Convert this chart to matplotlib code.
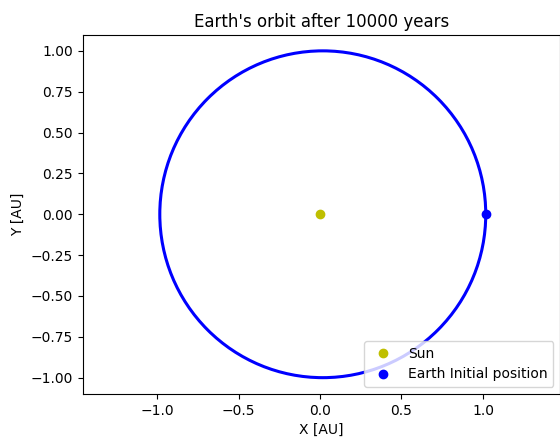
import matplotlib
matplotlib.use("Agg")
import matplotlib.pyplot as plt
from matplotlib.patches import Ellipse

# Orbit (AU)
orbit_center = (0.017, 0.0)
orbit_width = 2.0      # perihelion -0.983 .. aphelion 1.017
orbit_height = 2.0

sun_x, sun_y = [0.0], [0.0]
earth_x, earth_y = [1.017], [0.0]

x_ticks = [-1.0, -0.5, 0.0, 0.5, 1.0]
y_ticks = [-1.00, -0.75, -0.50, -0.25, 0.00, 0.25, 0.50, 0.75, 1.00]

fig = plt.figure(figsize=(5.6, 4.37), dpi=100)
ax = fig.add_axes([0.1477, 0.0984, 0.853, 0.8215])

orbit = Ellipse(orbit_center, orbit_width, orbit_height,
                fill=False, edgecolor='b', linewidth=2.2)
ax.add_patch(orbit)

ax.plot(sun_x, sun_y, 'yo', label='Sun')
ax.plot(earth_x, earth_y, 'bo', label='Earth Initial position')

ax.set_xlim(-1.456, 1.475)
ax.set_ylim(-1.10, 1.097)
ax.set_xticks(x_ticks)
ax.set_yticks(y_ticks)

ax.set_title("Earth's orbit after 10000 years")
ax.set_xlabel('X [AU]')
ax.set_ylabel('Y [AU]')
ax.legend(loc='lower right')

fig.savefig('out.png', dpi=100)
plt.close(fig)
